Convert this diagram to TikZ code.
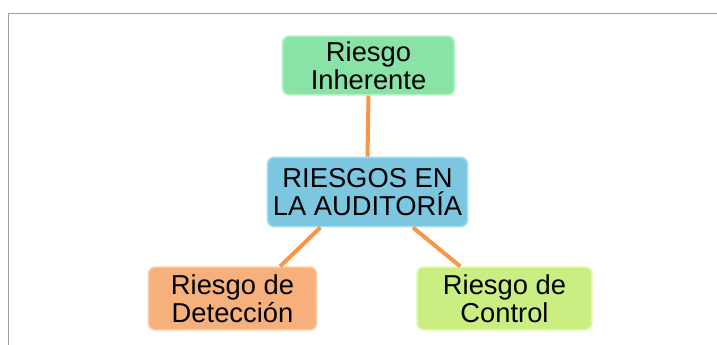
\documentclass[tikz,border=0pt]{standalone}
\usepackage{fontspec}
\setmainfont{Liberation Sans}

\definecolor{verdeR}{RGB}{138,227,166}
\definecolor{verdeB}{RGB}{176,246,198}
\definecolor{azulR}{RGB}{124,198,224}
\definecolor{azulB}{RGB}{160,222,245}
\definecolor{naranjaR}{RGB}{245,176,124}
\definecolor{naranjaB}{RGB}{251,204,166}
\definecolor{limaR}{RGB}{202,238,130}
\definecolor{limaB}{RGB}{222,248,170}
\definecolor{enlace}{RGB}{247,150,70}
\definecolor{marco}{RGB}{160,160,160}

\tikzset{
  caja/.style={rectangle, rounded corners=5pt, align=center, inner sep=0pt,
    font=\fontsize{20.5}{21}\selectfont, line width=1.2pt},
  enlaceR/.style={draw=enlace, line width=3pt}
}

\begin{document}
\begin{tikzpicture}[x=0.75pt,y=0.75pt,yscale=-1,xscale=1]
\useasboundingbox (0,0) rectangle (717,345);

%Frame
\draw [color=marco, line width=1.3pt] (8.5,345) -- (8.5,13.5) -- (717,13.5) ;

% Nodes
\node [caja, fill=verdeR, draw=verdeB, minimum width=129pt, minimum height=44pt] (inh) at (368.5,65.5) {Riesgo\\Inherente};
\node [caja, fill=azulR, draw=azulB, minimum width=150pt, minimum height=52pt] (aud) at (367.5,192) {RIESGOS EN\\LA AUDITORÍA};
\node [caja, fill=naranjaR, draw=naranjaB, minimum width=126pt, minimum height=47pt] (det) at (232.5,298.5) {Riesgo de\\Detección};
\node [caja, fill=limaR, draw=limaB, minimum width=131pt, minimum height=47pt] (ctl) at (504.5,298.5) {Riesgo de\\Control};

% Connectors
\draw [enlaceR] (inh.south) -- (aud.north) ;
\draw [enlaceR] (aud.-143) -- (det.34) ;
\draw [enlaceR] (aud.-38) -- (ctl.144) ;

\end{tikzpicture}
\end{document}
